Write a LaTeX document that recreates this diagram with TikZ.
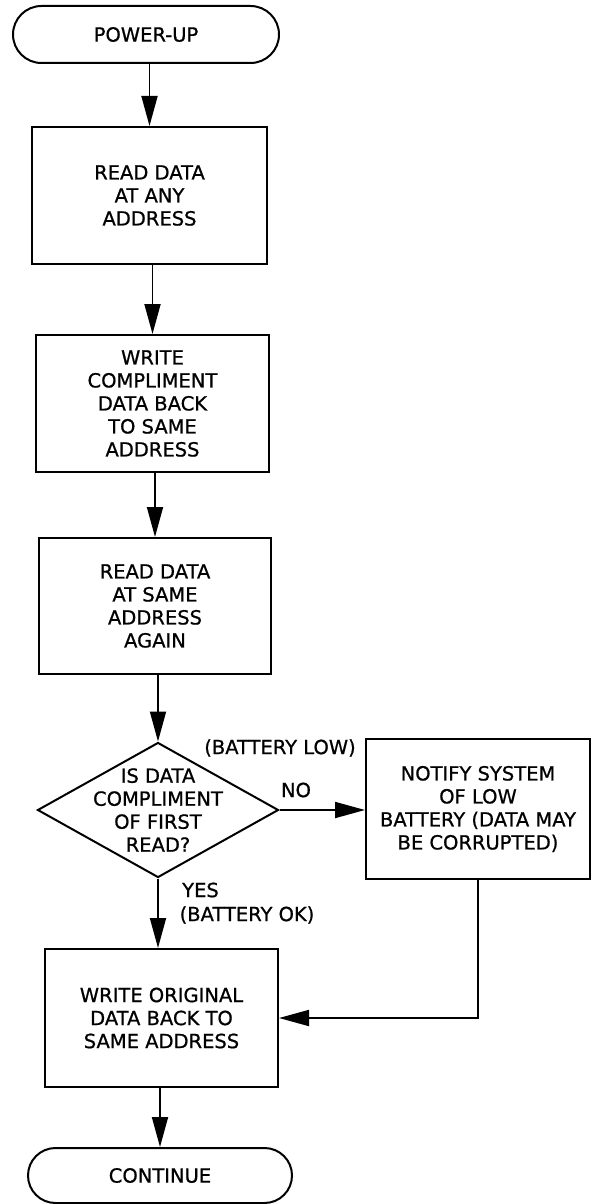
\documentclass[tikz,border=0pt]{standalone}
\usepackage{fontspec}
\setmainfont[FakeBold=0.8]{DejaVu Sans}
\usetikzlibrary{arrows.meta,shapes.geometric,shapes.misc}
\begin{document}
\begin{tikzpicture}[x=1pt,y=-1pt,
  every node/.style={font=\fontsize{19.5}{23}\selectfont, align=center, inner sep=0pt},
  proc/.style={draw, line width=2pt, rectangle},
  term/.style={draw, line width=2pt, rounded rectangle},
  arr/.style={line width=1.8pt, -{Triangle[length=30pt,width=16pt]}},
]
\useasboundingbox (0,0) rectangle (593,1204);

\node[term, minimum width=266pt, minimum height=57pt] (start) at (146,34.5) {POWER-UP};
\node[proc, minimum width=235pt, minimum height=137pt] (b1) at (149.5,195.5) {READ DATA\\AT ANY\\ADDRESS};
\node[proc, minimum width=233pt, minimum height=137pt] (b2) at (152.5,403.5) {WRITE\\COMPLIMENT\\DATA BACK\\TO SAME\\ADDRESS};
\node[proc, minimum width=232pt, minimum height=136pt] (b3) at (155,606) {READ DATA\\AT SAME\\ADDRESS\\AGAIN};
\node[diamond, draw, line width=2pt, minimum width=241pt, minimum height=135pt] (dec) at (158,810) {};
\node (dectext) at (dec.center) {IS DATA\\COMPLIMENT\\OF FIRST\\READ?};
\node[proc, minimum width=224pt, minimum height=140pt] (note) at (478,809) {NOTIFY SYSTEM\\OF LOW\\BATTERY (DATA MAY\\BE CORRUPTED)};
\node[proc, minimum width=233pt, minimum height=138pt] (b5) at (161.5,1018) {WRITE ORIGINAL\\DATA BACK TO\\SAME ADDRESS};
\node[term, minimum width=264pt, minimum height=55pt] (cont) at (160,1175.5) {CONTINUE};

\node (low) at (280,748) {(BATTERY LOW)};
\node (no) at (296,790) {NO};
\node[anchor=west] (yes) at (182,890) {YES};
\node (ok) at (247,915) {(BATTERY OK)};

\draw[arr] (b1.north |- start.south) -- (b1.north);
\draw[arr] (b2.north |- b1.south) -- (b2.north);
\draw[arr] (b3.north |- b2.south) -- (b3.north);
\draw[arr] (dec.north |- b3.south) -- (dec.north);
\draw[arr] (dec.east) -- (dec.east -| note.west);
\draw[arr] (dec.south) -- (dec.south |- b5.north);
\draw[arr] (note.south) |- (b5.east);
\draw[arr] (cont.north |- b5.south) -- (cont.north);
\end{tikzpicture}
\end{document}
